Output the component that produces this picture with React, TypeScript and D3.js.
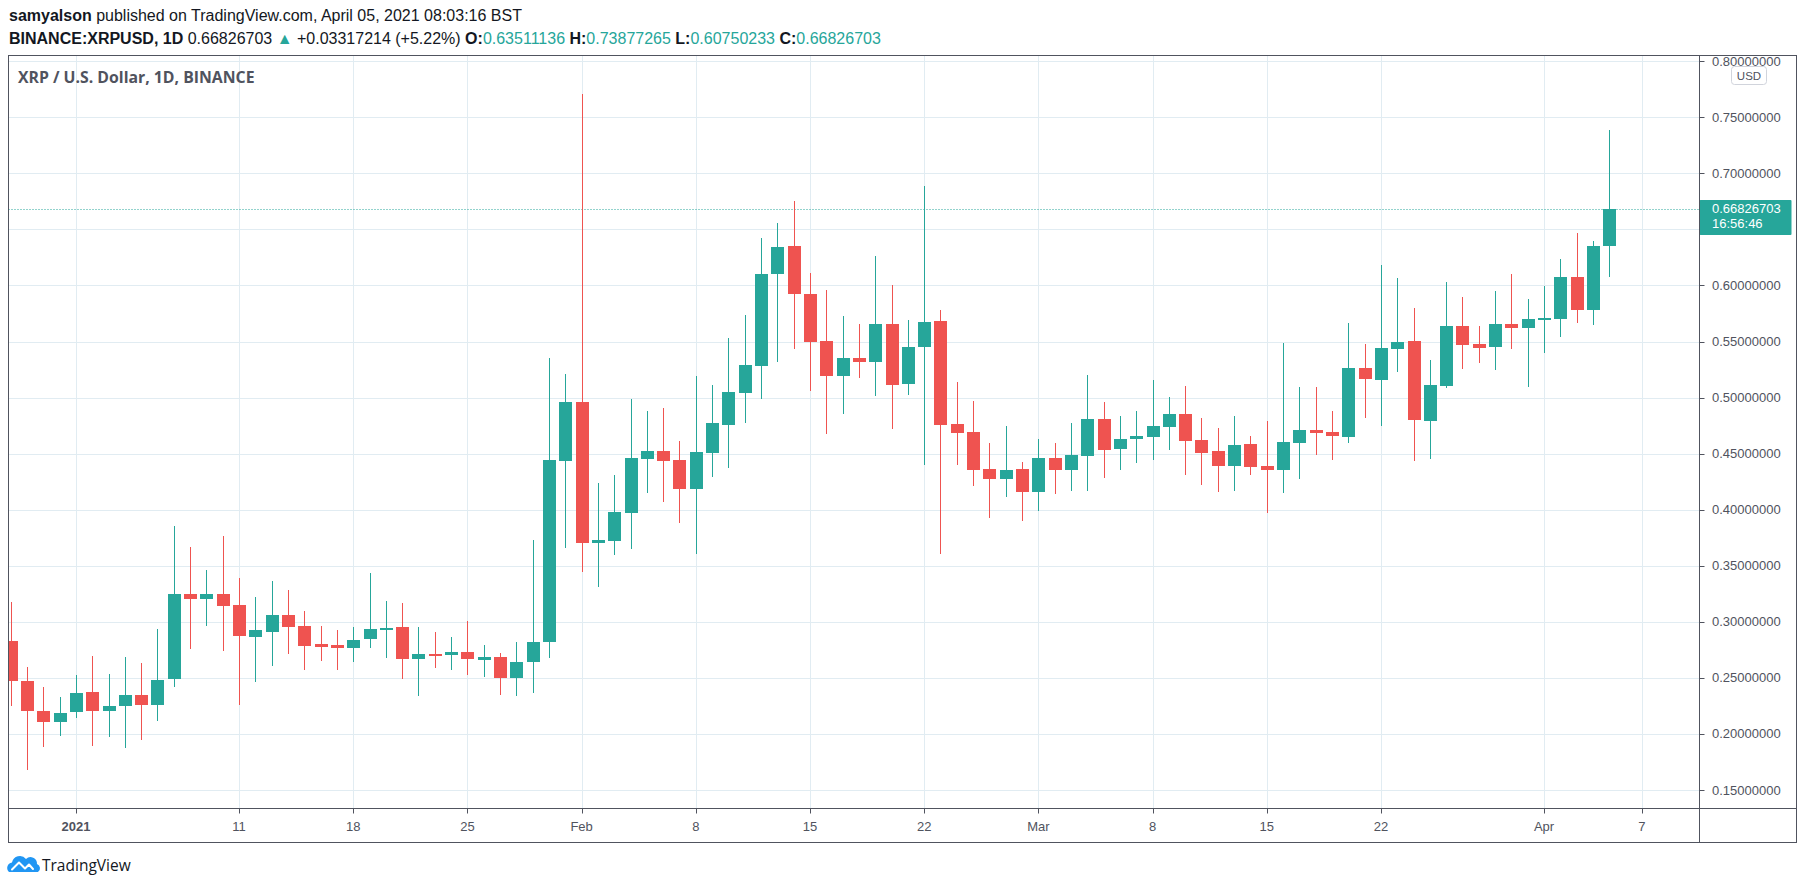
import React from "react";
import * as d3 from "d3";

// daily candles, first one is 2020-12-28
const START = Date.UTC(2020, 11, 28);

const OPEN = [
  0.2833, 0.2476, 0.2208, 0.2104, 0.2193, 0.2378, 0.2202, 0.2247, 0.2351, 0.2256,
  0.2488, 0.3244, 0.3202, 0.3244, 0.3146, 0.2863, 0.2908, 0.3057, 0.2967, 0.2798,
  0.2789, 0.2765, 0.2845, 0.2935, 0.2958, 0.2667, 0.2717, 0.2708, 0.2735, 0.2658,
  0.2682, 0.2497, 0.264, 0.2818, 0.4435, 0.4958, 0.3702, 0.372, 0.397, 0.4452,
  0.4521, 0.444, 0.4185, 0.4506, 0.4756, 0.5042, 0.5283, 0.6104, 0.6351, 0.5923,
  0.5503, 0.5193, 0.5351, 0.5318, 0.5655, 0.5122, 0.5452, 0.5682, 0.4762, 0.469,
  0.4363, 0.4274, 0.4363, 0.4158, 0.4458, 0.4351, 0.4479, 0.4807, 0.4539, 0.4628,
  0.4646, 0.4735, 0.4851, 0.4619, 0.4521, 0.4387, 0.4583, 0.4387, 0.4351, 0.4592,
  0.4708, 0.469, 0.4646, 0.5262, 0.5155, 0.5432, 0.5503, 0.4789, 0.5101, 0.5637,
  0.5476, 0.5449, 0.5655, 0.5619, 0.569, 0.5699, 0.6074, 0.578, 0.63511136,
];
const HIGH = [
  0.3176, 0.2601, 0.2423, 0.2333, 0.253, 0.2699, 0.2539, 0.2682, 0.2637, 0.294,
  0.3851, 0.3667, 0.3458, 0.3765, 0.3387, 0.3217, 0.336, 0.328, 0.3101, 0.2967,
  0.2923, 0.2958, 0.3432, 0.3182, 0.3164, 0.2958, 0.2905, 0.2869, 0.3003, 0.2789,
  0.2726, 0.2824, 0.3726, 0.5352, 0.5208, 0.7708, 0.4235, 0.4307, 0.4985, 0.4878,
  0.4905, 0.461, 0.519, 0.511, 0.553, 0.5735, 0.6423, 0.6557, 0.6753, 0.611,
  0.5958, 0.5726, 0.5655, 0.6262, 0.6003, 0.569, 0.6887, 0.578, 0.5137, 0.4967,
  0.4592, 0.4744, 0.4423, 0.4628, 0.4592, 0.4771, 0.5199, 0.4958, 0.4833, 0.4878,
  0.5155, 0.5003, 0.5101, 0.4815, 0.4726, 0.4833, 0.4655, 0.4789, 0.5485, 0.5092,
  0.5092, 0.4878, 0.5664, 0.5476, 0.6182, 0.6065, 0.5798, 0.5333, 0.603, 0.5896,
  0.5637, 0.5949, 0.6101, 0.5878, 0.5994, 0.6235, 0.6467, 0.6396, 0.73877265,
];
const LOW = [
  0.2247, 0.1679, 0.1881, 0.1979, 0.214, 0.189, 0.197, 0.1872, 0.1943, 0.2113,
  0.2417, 0.2756, 0.2961, 0.2738, 0.2256, 0.2461, 0.2604, 0.2711, 0.2568, 0.2649,
  0.2568, 0.264, 0.2765, 0.2676, 0.2488, 0.2336, 0.2586, 0.2568, 0.2524, 0.2506,
  0.2345, 0.2336, 0.2363, 0.2679, 0.3658, 0.3443, 0.331, 0.3595, 0.3649, 0.4149,
  0.4068, 0.3881, 0.3604, 0.4292, 0.4372, 0.4774, 0.4988, 0.5318, 0.5435, 0.506,
  0.4676, 0.4854, 0.5176, 0.5015, 0.472, 0.5024, 0.4399, 0.3604, 0.4399, 0.4211,
  0.3926, 0.4113, 0.3899, 0.3988, 0.414, 0.4164, 0.4164, 0.428, 0.4351, 0.4414,
  0.444, 0.453, 0.4307, 0.4217, 0.4155, 0.4164, 0.4307, 0.397, 0.4146, 0.4271,
  0.4485, 0.444, 0.4592, 0.4815, 0.4744, 0.5226, 0.4432, 0.4449, 0.5083, 0.5253,
  0.5307, 0.5244, 0.5432, 0.5092, 0.5396, 0.5539, 0.5664, 0.5646, 0.60750233,
];
const CLOSE = [
  0.247, 0.2202, 0.2104, 0.219, 0.2369, 0.2202, 0.2253, 0.2351, 0.2256, 0.2485,
  0.3244, 0.3202, 0.3244, 0.314, 0.2872, 0.2923, 0.3057, 0.2952, 0.2783, 0.2774,
  0.2765, 0.2842, 0.294, 0.2949, 0.2667, 0.2717, 0.2708, 0.2735, 0.2667, 0.2682,
  0.2497, 0.2646, 0.2824, 0.444, 0.4958, 0.3702, 0.3726, 0.3976, 0.4458, 0.4521,
  0.4435, 0.4185, 0.4512, 0.4771, 0.5048, 0.5289, 0.6101, 0.6342, 0.5926, 0.5497,
  0.5193, 0.5351, 0.5318, 0.5655, 0.5113, 0.5449, 0.5673, 0.4756, 0.4685, 0.4354,
  0.4274, 0.4354, 0.4158, 0.4458, 0.4351, 0.4485, 0.4807, 0.453, 0.4628, 0.4655,
  0.4744, 0.4851, 0.461, 0.4503, 0.4387, 0.4574, 0.4378, 0.4351, 0.4601, 0.4708,
  0.4682, 0.4655, 0.5262, 0.5164, 0.544, 0.5494, 0.4798, 0.511, 0.5637, 0.5467,
  0.544, 0.5655, 0.5619, 0.5699, 0.5708, 0.6074, 0.578, 0.6351, 0.66826703,
];

const PRICE_TICKS = [0.15, 0.2, 0.25, 0.3, 0.35, 0.4, 0.45, 0.5, 0.55, 0.6, 0.65, 0.7, 0.75, 0.8];
const TIME_TICKS = [
  { date: Date.UTC(2021, 0, 1), label: "2021", bold: true },
  { date: Date.UTC(2021, 0, 11), label: "11" },
  { date: Date.UTC(2021, 0, 18), label: "18" },
  { date: Date.UTC(2021, 0, 25), label: "25" },
  { date: Date.UTC(2021, 1, 1), label: "Feb" },
  { date: Date.UTC(2021, 1, 8), label: "8" },
  { date: Date.UTC(2021, 1, 15), label: "15" },
  { date: Date.UTC(2021, 1, 22), label: "22" },
  { date: Date.UTC(2021, 2, 1), label: "Mar" },
  { date: Date.UTC(2021, 2, 8), label: "8" },
  { date: Date.UTC(2021, 2, 15), label: "15" },
  { date: Date.UTC(2021, 2, 22), label: "22" },
  { date: Date.UTC(2021, 3, 1), label: "Apr" },
  { date: Date.UTC(2021, 3, 7), label: "7" },
];

const LAST_PRICE = 0.66826703;
const COUNTDOWN = "16:56:46";

const W = 1805;
const H = 890;
const LEFT = 8.5;
const TOP = 55.5;
const PANE_BOTTOM = 808.5;
const AXIS_X = 1699.5;
const RIGHT = 1796.5;
const BOTTOM = 842.5;

const UP = "#26a69a";
const DOWN = "#ef5350";
const GRID = "#e1ecf2";
const BORDER = "#50535e";
const TEXT = "#131722";
const FONT = "'Liberation Sans', Arial, sans-serif";
const UI_FONT = "'Open Sans', 'Liberation Sans', sans-serif";

export default function App() {
  const x = d3
    .scaleUtc()
    .domain([Date.UTC(2021, 0, 1), Date.UTC(2021, 3, 7)])
    .range([75.9, 1641.9]);
  const y = d3.scaleLinear().domain([0.15, 0.75]).range([790, 117.3]);

  const dayW = x(Date.UTC(2021, 0, 2)) - x(Date.UTC(2021, 0, 1));
  const bodyW = Math.round(dayW * 0.8);

  const candles = OPEN.map((o, i) => ({
    date: d3.utcDay.offset(new Date(START), i),
    o,
    h: HIGH[i],
    l: LOW[i],
    c: CLOSE[i],
  }));

  // the 0.65 label sits under the last-price badge, so it is not drawn
  const lastY = y(LAST_PRICE);
  const shownTicks = PRICE_TICKS.filter((p) => Math.abs(y(p) - lastY) > 22);

  return (
    <div style={{ position: "absolute", left: 0, top: 0 }}>
      <svg width={W} height={H} style={{ display: "block", background: "#fff" }} fontFamily={FONT}>
        <defs>
          <clipPath id="pane">
            <rect x={LEFT} y={TOP} width={AXIS_X - LEFT} height={PANE_BOTTOM - TOP} />
          </clipPath>
          <clipPath id="paxis">
            <rect x={AXIS_X} y={TOP} width={RIGHT - AXIS_X} height={PANE_BOTTOM - TOP} />
          </clipPath>
        </defs>

        {/* header */}
        <text x={9} y={21} fontSize={16} fill={TEXT}>
          <tspan fontWeight="bold">samyalson</tspan>
          <tspan> published on TradingView.com, April 05, 2021 08:03:16 BST</tspan>
        </text>
        <text x={9} y={43.5} fontSize={16} fill={TEXT}>
          <tspan fontWeight="bold">BINANCE:XRPUSD, 1D</tspan>
          <tspan> 0.66826703 </tspan>
          <tspan fill={UP}>▲</tspan>
          <tspan> +0.03317214 (+5.22%) </tspan>
          <tspan fontWeight="bold">O:</tspan>
          <tspan fill={UP}>0.63511136</tspan>
          <tspan fontWeight="bold"> H:</tspan>
          <tspan fill={UP}>0.73877265</tspan>
          <tspan fontWeight="bold"> L:</tspan>
          <tspan fill={UP}>0.60750233</tspan>
          <tspan fontWeight="bold"> C:</tspan>
          <tspan fill={UP}>0.66826703</tspan>
        </text>

        {/* grid */}
        <g clipPath="url(#pane)">
          {PRICE_TICKS.map((p) => (
            <line key={p} x1={LEFT} x2={AXIS_X} y1={Math.round(y(p)) + 0.5} y2={Math.round(y(p)) + 0.5} stroke={GRID} />
          ))}
          {TIME_TICKS.map((t) => (
            <line key={t.date} x1={Math.round(x(t.date)) + 0.5} x2={Math.round(x(t.date)) + 0.5} y1={TOP} y2={PANE_BOTTOM} stroke={GRID} />
          ))}
        </g>

        <text x={18} y={77} dy="0.35em" fontSize={15.8} fill={BORDER} fontWeight="bold" fontFamily={UI_FONT}>
          XRP / U.S. Dollar, 1D, BINANCE
        </text>

        {/* last price line */}
        <line
          x1={LEFT}
          x2={AXIS_X}
          y1={Math.round(lastY) + 0.5}
          y2={Math.round(lastY) + 0.5}
          stroke={UP}
          strokeDasharray="1 2"
        />

        {/* candles */}
        <g clipPath="url(#pane)">
          {candles.map((d, i) => {
            const cx = Math.round(x(d.date));
            const col = d.c >= d.o ? UP : DOWN;
            const top = Math.round(y(Math.max(d.o, d.c)));
            const bot = Math.round(y(Math.min(d.o, d.c)));
            return (
              <g key={i}>
                <rect x={cx} y={Math.round(y(d.h))} width={1} height={Math.round(y(d.l)) - Math.round(y(d.h))} fill={col} />
                <rect x={cx - (bodyW - 1) / 2} y={top} width={bodyW} height={Math.max(2, bot - top)} fill={col} />
              </g>
            );
          })}
        </g>

        {/* price axis */}
        <g clipPath="url(#paxis)">
          {PRICE_TICKS.map((p) => (
            <line key={p} x1={AXIS_X} x2={AXIS_X + 5} y1={Math.round(y(p)) + 0.5} y2={Math.round(y(p)) + 0.5} stroke={BORDER} />
          ))}
          {shownTicks.map((p) => (
            <text key={p} x={1712} y={y(p)} dy="0.35em" fontSize={13} fill={BORDER}>
              {p.toFixed(8)}
            </text>
          ))}
        </g>
        <rect x={1731.5} y={66.5} width={35} height={18} rx={3} fill="#fff" stroke="#d1d4dc" />
        <text x={1749} y={75.5} dy="0.35em" textAnchor="middle" fontSize={11.5} fill={BORDER}>
          USD
        </text>

        <rect x={AXIS_X} y={200} width={92} height={35} rx={1} fill={UP} />
        <text x={1712} y={lastY} dy="0.35em" fontSize={13} fill="#fff">
          {LAST_PRICE.toFixed(8)}
        </text>
        <text x={1712} y={lastY + 15} dy="0.35em" fontSize={13} fill="#fff">
          {COUNTDOWN}
        </text>

        {/* time axis */}
        {TIME_TICKS.map((t) => (
          <g key={t.date}>
            <line x1={Math.round(x(t.date)) + 0.5} x2={Math.round(x(t.date)) + 0.5} y1={PANE_BOTTOM} y2={PANE_BOTTOM + 5} stroke={BORDER} />
            <text
              x={x(t.date)}
              y={826}
              dy="0.35em"
              textAnchor="middle"
              fontSize={13}
              fill={BORDER}
              fontWeight={t.bold ? "bold" : "normal"}
            >
              {t.label}
            </text>
          </g>
        ))}

        {/* frame */}
        <rect x={LEFT} y={TOP} width={RIGHT - LEFT} height={BOTTOM - TOP} fill="none" stroke={BORDER} />
        <line x1={LEFT} x2={RIGHT} y1={PANE_BOTTOM} y2={PANE_BOTTOM} stroke={BORDER} />
        <line x1={AXIS_X} x2={AXIS_X} y1={TOP} y2={BOTTOM} stroke={BORDER} />

        {/* logo */}
        <path
          d="M9,872 A5.5,5.5 0 0 1 12,862.5 A8,8 0 0 1 26,859 A6.5,6.5 0 0 1 37,864 A4.5,4.5 0 0 1 38,872 Z"
          fill="#2196f3"
        />
        <path
          d="M12,869.5 L19,862.5 L25,868.5 L29,864.5 L33,869"
          fill="none"
          stroke="#fff"
          strokeWidth={2}
          strokeLinejoin="round"
          strokeLinecap="round"
        />
        <text x={42} y={866} dy="0.35em" fontSize={15.5} fill={TEXT} fontFamily={UI_FONT}>
          TradingView
        </text>
      </svg>
    </div>
  );
}
